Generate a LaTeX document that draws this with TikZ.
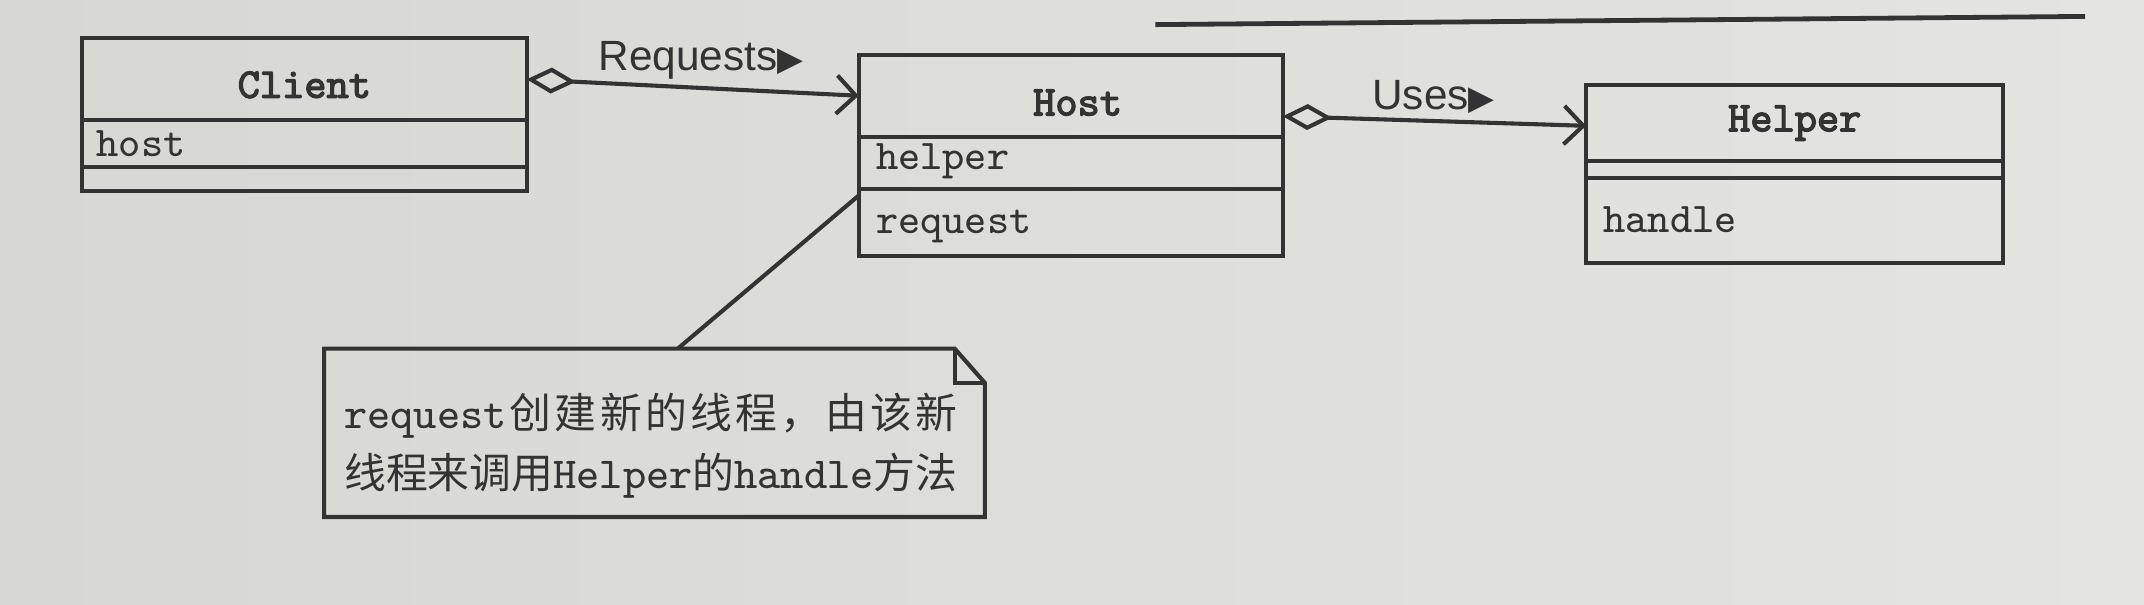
\documentclass[tikz,border=0pt]{standalone}
\usepackage{fontspec}
\setmainfont{Liberation Sans}
\newfontfamily\cjkfont{Noto Sans CJK SC}
\newfontfamily\symfont{DejaVu Sans}
\newfontfamily\monobold[FakeBold=3]{lmmono10-regular.otf}
\usetikzlibrary{arrows.meta,calc}
\definecolor{paper}{HTML}{E4E4E1}
\definecolor{paperL}{HTML}{D7D7D4}
\definecolor{ink}{HTML}{333333}
\newcommand{\cj}[1]{{\cjkfont\fontsize{8.7}{10}\selectfont #1}}
\newcommand{\mt}[1]{{\ttfamily\fontsize{9.2}{10}\selectfont #1}}
\begin{document}
\begin{tikzpicture}[x=0.01cm,y=-0.01cm,
  comp/.style={draw=ink, line width=0.85pt, inner sep=0pt, outer sep=0pt, anchor=north west},
  cname/.style={font=\monobold\fontsize{8.8}{10}\selectfont, text=ink, inner sep=0pt},
  attr/.style={font=\ttfamily\fontsize{8.8}{10}\selectfont, text=ink, inner sep=0pt, anchor=west},
  assoc/.style={draw=ink, line width=0.85pt, {Diamond[open,length=3.6mm,width=1.9mm,line width=0.85pt]}-{Straight Barb[length=1.4mm,width=2.8mm,line width=0.85pt]}},
  albl/.style={font=\fontsize{8.8}{10}\selectfont, text=ink, inner sep=0pt},
  notetext/.style={text=ink, inner sep=0pt, anchor=north west, align=left}
]
% background paper
\shade[left color=paperL, right color=paper] (0,0) rectangle (1568,442);
\useasboundingbox (0,0) rectangle (1568,442);

% page header rule (part of the photographed page)
\coordinate (ruleA) at (845,18);
\coordinate (ruleB) at (1525,12);
\draw[ink, line width=1pt] (ruleA) -- (ruleB);

% Client
\node[comp, minimum width=3.25cm, minimum height=0.60cm] (clientn) at (60,28) {};
\node[comp, minimum width=3.25cm, minimum height=0.34cm] (clienta) at (60,88) {};
\node[comp, minimum width=3.25cm, minimum height=0.18cm] (cliento) at (60,122) {};
\node[cname] (clientt) at ([yshift=-0.04cm]clientn.center) {Client};
\node[attr] (clienth) at ([xshift=0.1cm]clienta.west) {host};

% Host
\node[comp, minimum width=3.10cm, minimum height=0.60cm] (hostn) at (628,40) {};
\node[comp, minimum width=3.10cm, minimum height=0.38cm] (hosta) at (628,100) {};
\node[comp, minimum width=3.10cm, minimum height=0.49cm] (hosto) at (628,138) {};
\node[cname] (hostt) at ([xshift=0.05cm,yshift=-0.05cm]hostn.center) {Host};
\node[attr] (hosth) at ([xshift=0.12cm,yshift=0.01cm]hosta.west) {helper};
\node[attr] (hostr) at ([xshift=0.12cm,yshift=-0.03cm]hosto.west) {request};

% Helper
\node[comp, minimum width=3.05cm, minimum height=0.56cm] (helpn) at (1160,62) {};
\node[comp, minimum width=3.05cm, minimum height=0.12cm] (helpa) at (1160,118) {};
\node[comp, minimum width=3.05cm, minimum height=0.62cm] (helpo) at (1160,130) {};
\node[cname] (helpt) at (helpn.center) {Helper};
\node[attr] (helph) at ([xshift=0.12cm]helpo.west) {handle};

% associations
\draw[assoc] (clientn.east) -- (hostn.west);
\node[albl, anchor=west] (reqlbl) at (437,44) {Requests{\symfont\fontsize{7}{8}\selectfont ▶}};
\draw[assoc] ([yshift=-0.15cm]hostn.east) -- ([yshift=-0.02cm]helpn.west);
\node[albl, anchor=west] (uselbl) at (1003,71) {Uses{\symfont\fontsize{7}{8}\selectfont ▶}};

% note
\node[inner sep=0pt, outer sep=0pt, minimum width=4.83cm, minimum height=1.23cm, anchor=north west] (note) at (237,255) {};
\draw[ink, line width=0.85pt] (note.north west) -- ([xshift=-0.22cm]note.north east)
  -- ([yshift=-0.25cm]note.north east) -- (note.south east) -- (note.south west) -- cycle;
\draw[ink, line width=0.85pt] ([xshift=-0.22cm]note.north east) -- ([xshift=-0.22cm,yshift=-0.25cm]note.north east)
  -- ([yshift=-0.25cm]note.north east);
\node[notetext] (notet) at (251,287) {%
  \makebox[4.48cm][s]{\mt{request}\hfill\cj{创}\hfill\cj{建}\hfill\cj{新}\hfill\cj{的}\hfill\cj{线}\hfill\cj{程}\hfill\cj{，}\hfill\cj{由}\hfill\cj{该}\hfill\cj{新}}\\[0.5pt]
  \cj{线程来调用}\mt{Helper}\cj{的}\mt{handle}\cj{方法}};
\draw[ink, line width=0.85pt] ([yshift=-0.05cm]hosto.north west) -- ([xshift=0.17cm]note.north);
\end{tikzpicture}
\end{document}
